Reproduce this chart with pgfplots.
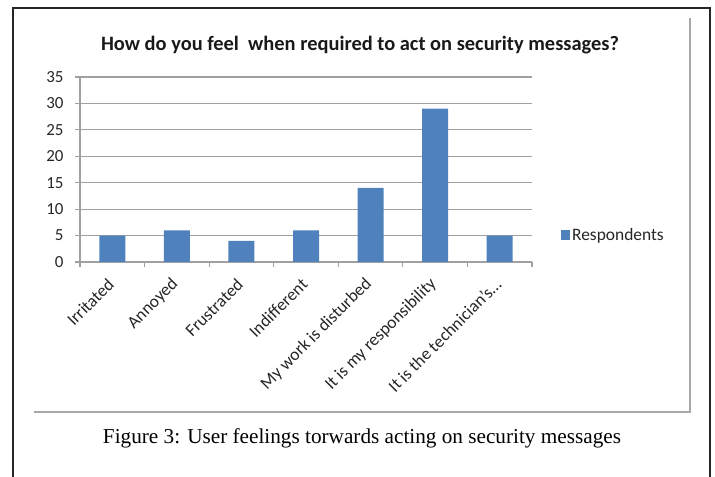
\documentclass[border=0pt]{standalone}
\usepackage{fontspec}
\setmainfont{Carlito}
\newfontfamily\timesfont{Liberation Serif}
\usepackage{pgfplots}
\pgfplotsset{compat=1.18}
\definecolor{barblue}{HTML}{4F81BD}
\definecolor{gridgray}{HTML}{A0A0A0}
\definecolor{framegray}{HTML}{A8A8A8}
\begin{document}
\begin{tikzpicture}[x=1bp,y=1bp]
\useasboundingbox (0,0) rectangle (715,477);
% outer page frame
\draw[line width=2.2bp, black!85] (13,-3) -- (13,469) -- (710,469) -- (710,-3);
% chart area frame
\draw[line width=1.6bp, framegray] (690,459) -- (690,65) -- (34,65);
\node[font=\bfseries\fontsize{20.5}{24}\selectfont, text=black!90] at (360,432) {How do you feel \ when required to act on security messages?};
\node[font=\timesfont\fontsize{21.3}{25}\selectfont, text=black] at (362,39) {Figure 3: User feelings torwards acting on security messages};
\begin{axis}[
  at={(80bp,215bp)}, anchor=south west,
  scale only axis, width=452bp, height=185bp,
  xmin=-0.5, xmax=6.5, ymin=0, ymax=35,
  ytick={0,5,...,35}, minor ytick={0,5,...,35},
  ymajorgrids, grid style={gridgray, line width=1.1bp},
  axis x line*=bottom, axis y line*=left,
  axis line style={gridgray, line width=1.1bp, -},
  tick style={gridgray, line width=1.1bp},
  tick align=outside, major tick length=0pt, minor tick length=5bp,
  xtick={0,1,2,3,4,5,6},
  xticklabels={Irritated, Annoyed, Frustrated, Indifferent, My work is disturbed, It is my responsibility, It is the technician’s…},
  minor xtick={-0.5,0.5,...,6.5},
  xticklabel shift=18bp,
  xticklabel style={rotate=45, anchor=east, font=\fontsize{17.5}{19}\selectfont, text=black!85, inner sep=2bp},
  yticklabel style={font=\fontsize{17}{19}\selectfont, text=black!85, xshift=-13bp},
  /pgf/number format/assume math mode=true,
  legend style={at={(1.064,0.146)}, anchor=west, draw=none, fill=none,
    font=\fontsize{17.5}{19}\selectfont, text=black!85, inner sep=0pt},
  legend image code/.code={\fill[barblue] (0bp,-5bp) rectangle (9bp,5bp);},
]
\addplot[ybar, bar width=26bp, fill=barblue, draw=none]
  coordinates {(0,5) (1,6) (2,4) (3,6) (4,14) (5,29) (6,5)};
\addlegendentry{Respondents}
\end{axis}
\end{tikzpicture}
\end{document}
